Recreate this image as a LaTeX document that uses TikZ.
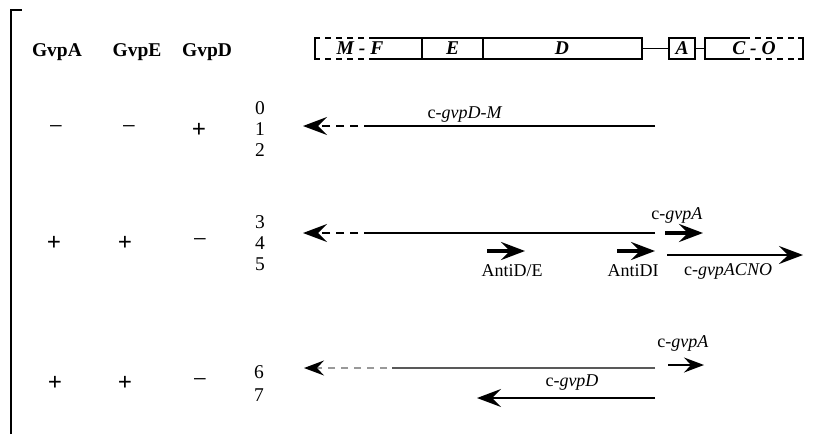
\documentclass[tikz,border=0pt]{standalone}
\usepackage{fontspec}
\setmainfont{Liberation Serif}
\usetikzlibrary{arrows.meta}
\begin{document}
\begin{tikzpicture}[x=1pt,y=-1pt,
  hd/.style={font=\fontsize{19.5}{20}\selectfont\bfseries, anchor=center},
  sg/.style={font=\fontsize{25}{25}\selectfont\bfseries, anchor=center},
  sgm/.style={font=\fontsize{25}{25}\selectfont, anchor=center},
  nm/.style={font=\fontsize{19.5}{20}\selectfont, anchor=center},
  lb/.style={font=\fontsize{18}{18}\selectfont, anchor=center},
  gn/.style={font=\fontsize{19.5}{20}\selectfont\bfseries\itshape, anchor=center},
  mapline/.style={line width=1.4pt},
  mapdash/.style={line width=1.4pt, dash pattern=on 6pt off 5pt},
  tip/.style={-{Stealth[length=24pt,width=18pt,inset=9pt]}},
  tipsm/.style={-{Stealth[length=20pt,width=15pt,inset=7pt]}},
  solidln/.style={line width=1.8pt},
  dashln/.style={line width=1.8pt, dash pattern=on 8pt off 6pt},
  thick arr/.style={line width=4.5pt},
  thin arr/.style={line width=1.7pt}]
\useasboundingbox (0,0) rectangle (813,434);
% frame
\draw[line width=1.4pt] (11,434) -- (11,10) -- (22,10);
% headers
\node[hd] (hA) at (57,52) {GvpA};
\node[hd] (hE) at (137,52) {GvpE};
\node[hd] (hD) at (207,52) {GvpD};
% gene map
\coordinate (m1) at (315,38); \coordinate (m2) at (315,59);
\draw[mapline] (320,38) -- (m1) -- (m2) -- (320,59);
\draw[mapdash] (325,38) -- (370,38);
\draw[mapdash] (325,59) -- (370,59);
\draw[mapline] (370,38) -- (642,38) -- (642,59) -- (370,59);
\draw[mapline] (422,38) -- (422,59);
\draw[mapline] (483,38) -- (483,59);
\node[gn] (gMF) at (360,48.5) {M - F};
\node[gn] (gE) at (452.5,48.5) {E};
\node[gn] (gD) at (562,48.5) {D};
\node[draw, line width=1.4pt, minimum width=26pt, minimum height=21pt, inner sep=0pt, gn] (gA) at (682,48.5) {A};
\draw[mapline] (642,48.5) -- (gA.west);
\draw[mapline] (gA.east) -- (705,48.5);
\draw[mapline] (750,38) -- (705,38) -- (705,59) -- (750,59);
\draw[mapdash] (755,38) -- (798,38);
\draw[mapdash] (755,59) -- (798,59);
\coordinate (m3) at (803,38); \coordinate (m4) at (803,59);
\draw[mapline] (798,38) -- (m3) -- (m4) -- (798,59);
\node[gn] (gCO) at (754,48.5) {C - O};
% row 1
\node[sgm] (s1a) at (56,130) {\textminus};
\node[sgm] (s1b) at (129,130) {\textminus};
\node[sg] (s1c) at (199,130) {+};
\node[nm] (n0) at (260,108) {0};
\node[nm] (n1) at (260,129) {1};
\node[nm] (n2) at (260,150) {2};
\coordinate (r1t) at (303,126);
\coordinate (r1d) at (372,126);
\coordinate (r1e) at (655,126);
\draw[solidln] (r1e) -- (r1d);
\draw[dashln, tip] (r1d) -- (r1t);
\node[lb] (l1) at (465,115) {c-\textit{gvpD-M}};
% row 2
\node[sg] (s2a) at (54,243) {+};
\node[sg] (s2b) at (125,243) {+};
\node[sgm] (s2c) at (200,243) {\textminus};
\node[nm] (n3) at (260,222) {3};
\node[nm] (n4) at (260,243) {4};
\node[nm] (n5) at (260,264) {5};
\coordinate (r2t) at (303,233);
\coordinate (r2d) at (372,233);
\coordinate (r2e) at (655,233);
\draw[solidln] (r2e) -- (r2d);
\draw[dashln, tip] (r2d) -- (r2t);
\coordinate (a1s) at (665,233); \coordinate (a1e) at (703,233);
\draw[thick arr, tip] (a1s) -- (a1e);
\node[lb] (l2a) at (677,215) {c-\textit{gvpA}};
\coordinate (a2s) at (487,251); \coordinate (a2e) at (525,251);
\draw[thick arr, tip] (a2s) -- (a2e);
\node[lb] (l2b) at (512,271) {AntiD/E};
\coordinate (a3s) at (617,251); \coordinate (a3e) at (655,251);
\draw[thick arr, tip] (a3s) -- (a3e);
\node[lb] (l2c) at (633,271) {AntiDI};
\coordinate (a4s) at (667,255); \coordinate (a4e) at (803,255);
\draw[thin arr, tip] (a4s) -- (a4e);
\node[lb] (l2d) at (728,271) {c-\textit{gvpACNO}};
% row 3
\node[sg] (s3a) at (55,383) {+};
\node[sg] (s3b) at (125,383) {+};
\node[sgm] (s3c) at (200,383) {\textminus};
\node[nm] (n6) at (259,372) {6};
\node[nm] (n7) at (259,395) {7};
\coordinate (r3t) at (304,368);
\coordinate (r3d) at (392,368);
\coordinate (r3e) at (655,368);
\draw[solidln, black!65] (r3e) -- (r3d);
\draw[line width=1.5pt, black!40, dash pattern=on 7pt off 6pt] (387,368) -- (315,368);
\draw[line width=1.5pt, tipsm, shorten <=83pt] (r3d) -- (r3t);
\coordinate (b1s) at (668,365); \coordinate (b1e) at (704,365);
\draw[thin arr, tipsm] (b1s) -- (b1e);
\node[lb] (l3a) at (683,343) {c-\textit{gvpA}};
\coordinate (b2s) at (655,398); \coordinate (b2e) at (477,398);
\draw[solidln, tip] (b2s) -- (b2e);
\node[lb] (l3b) at (572,383) {c-\textit{gvpD}};
\end{tikzpicture}
\end{document}
